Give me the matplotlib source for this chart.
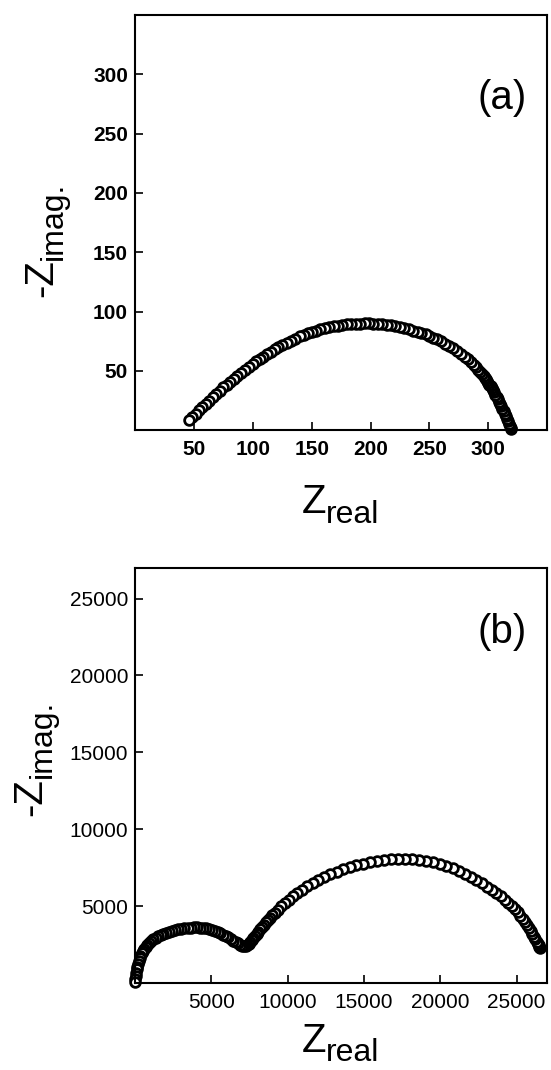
import matplotlib
matplotlib.use('Agg')
import matplotlib.pyplot as plt

plt.rcParams['font.family'] = ['Liberation Sans', 'DejaVu Sans']

# panel (a): Nyquist data (left to right)
za_real = [46.0, 48.8, 51.6, 54.4, 57.2, 60.0, 63.0, 66.0, 69.0, 72.0, 75.0,
           78.0, 81.0, 84.0, 87.0, 90.0, 93.3, 96.7, 100.0, 103.0, 106.0, 109.0,
           112.0, 115.2, 118.5, 121.8, 125.0, 128.8, 132.5, 136.2, 140.0, 143.3,
           146.7, 150.0, 153.8, 157.5, 161.2, 165.0, 168.8, 172.5, 176.2, 180.0,
           183.8, 187.5, 191.2, 195.0, 198.8, 202.5, 206.2, 210.0, 213.8, 217.5,
           221.2, 225.0, 228.8, 232.5, 236.2, 240.0, 243.3, 246.7, 250.0, 253.3,
           256.7, 260.0, 263.3, 266.7, 270.0, 273.3, 276.7, 280.0, 282.5, 285.0,
           287.5, 290.0, 291.7, 293.3, 295.0,
           296.0, 297.0, 298.0, 299.0, 300.0, 301.0, 302.0, 303.0, 304.0, 305.0,
           306.0, 307.0, 308.0, 309.0, 310.0, 311.0, 312.0, 313.0, 314.0, 315.0,
           316.0, 317.0, 318.0, 318.6, 319.0, 319.5]
za_imag = [8.5, 11.2, 13.9, 16.6, 19.3, 22.0, 24.8, 27.6, 30.4, 33.2, 36.0,
           38.4, 40.8, 43.2, 45.6, 48.0, 50.7, 53.3, 56.0, 58.0, 60.0, 62.0,
           64.0, 66.0, 68.0, 70.0, 72.0, 73.8, 75.5, 77.2, 79.0, 80.3,
           81.7, 83.0, 84.0, 85.0, 86.0, 87.0, 87.6, 88.2, 88.9, 89.5,
           89.6, 89.8, 89.9, 90.0, 90.0, 89.9, 89.7, 89.5, 89.0, 88.4,
           87.7, 87.0, 86.0, 85.0, 84.0, 83.0, 81.8, 80.7, 79.5, 78.0,
           76.5, 75.0, 73.0, 71.0, 69.0, 66.7, 64.3, 62.0, 59.8, 57.5,
           55.2, 53.0, 51.0, 49.0, 47.0,
           45.6, 44.3, 43.0, 41.5, 40.0, 38.4, 36.8, 35.2, 33.6, 32.0,
           30.0, 28.0, 26.0, 24.0, 22.0, 20.0, 18.0, 16.0, 14.0, 12.0,
           9.8, 7.6, 5.0, 3.4, 2.2, 1.0]

# panel (b)
zb_real = [0, 20, 45, 75, 110, 150, 195, 245, 300, 360, 430, 510, 600, 700,
           810, 930, 1060, 1200, 1350, 1510, 1680, 1860, 2050, 2240, 2440, 2640,
           2840, 3040, 3240, 3440, 3640, 3840, 4040, 4240, 4440, 4640, 4840,
           5040, 5230, 5420, 5600, 5780, 5950, 6120, 6280, 6440, 6590, 6740,
           6880, 7010, 7130, 7250, 7360, 7460, 7560, 7660, 7760, 7860, 7960,
           8070, 8180, 8300, 8420, 8550, 8690, 8840, 9000, 9180, 9370, 9580,
           9810, 10060, 10330, 10620, 10940, 11280, 11640, 12010, 12400, 12800,
           13210, 13630, 14060, 14500, 14950, 15400, 15860, 16320, 16780, 17240,
           17700, 18160, 18620, 19070, 19520, 19960, 20390, 20810, 21220, 21620,
           22000, 22370, 22720, 23060, 23380, 23680, 23960, 24220, 24460, 24680,
           24880, 25060, 25230, 25390, 25540, 25680, 25810, 25930, 26040, 26140,
           26230, 26310, 26380, 26440, 26490, 26530]
zb_imag = [80, 280, 480, 680, 880, 1070, 1260, 1440, 1610, 1770, 1930, 2080,
           2230, 2370, 2500, 2620, 2730, 2840, 2940, 3030, 3110, 3190, 3260,
           3330, 3390, 3440, 3490, 3530, 3560, 3590, 3610, 3620, 3620, 3610,
           3590, 3560, 3520, 3470, 3400, 3320, 3240, 3150, 3060, 2960, 2860,
           2760, 2660, 2570, 2490, 2430, 2400, 2400, 2460, 2550, 2650, 2770,
           2900, 3040, 3190, 3340, 3490, 3640, 3790, 3950, 4090, 4240, 4400,
           4580, 4770, 4980, 5200, 5420, 5640, 5860, 6080, 6300, 6510, 6710,
           6900, 7080, 7250, 7400, 7540, 7660, 7770, 7860, 7940, 8000, 8040,
           8060, 8060, 8040, 8000, 7930, 7840, 7730, 7600, 7450, 7280, 7100,
           6900, 6690, 6480, 6260, 6050, 5850, 5640, 5430, 5220, 5010, 4800,
           4590, 4380, 4170, 3960, 3760, 3560, 3370, 3180, 3000, 2830, 2680,
           2550, 2440, 2350, 2290]

ticks_a = [50, 100, 150, 200, 250, 300]
ticks_b = [5000, 10000, 15000, 20000, 25000]

fig = plt.figure(figsize=(5.51, 10.70), dpi=100)
ax1 = fig.add_axes([0.245, 0.598, 0.748, 0.388])
ax2 = fig.add_axes([0.245, 0.0813, 0.748, 0.388])

big, small = 29, 23  # axis label letter and its subscript


def axis_labels(ax, xl_y, yl_x, yl_y):
    # Z_real : main letter and a fairly large subscript
    ax.annotate('Z', xy=(0.5, xl_y), xycoords='axes fraction',
                xytext=(-10.6, 0), textcoords='offset points',
                ha='right', va='baseline', fontsize=big)
    ax.annotate('real', xy=(0.5, xl_y), xycoords='axes fraction',
                xytext=(-10.6, -7), textcoords='offset points',
                ha='left', va='baseline', fontsize=small)
    # -Z_imag. rotated
    ax.annotate('-Z', xy=(yl_x, yl_y), xycoords='axes fraction',
                xytext=(0, -15), textcoords='offset points',
                ha='right', va='baseline', fontsize=big,
                rotation=90, rotation_mode='anchor')
    ax.annotate('imag.', xy=(yl_x, yl_y), xycoords='axes fraction',
                xytext=(7, -15), textcoords='offset points',
                ha='left', va='baseline', fontsize=small,
                rotation=90, rotation_mode='anchor')


panels = [(ax1, za_real, za_imag, 350, ticks_a, '(a)', 0.80, 'bold',
           -0.2, -0.2, 0.461),
          (ax2, zb_real, zb_imag, 27000, ticks_b, '(b)', 0.845, 'normal',
           -0.165, -0.228, 0.543)]

for ax, xr, yi, lim, ticks, tag, ty, wt, xl_y, yl_x, yl_y in panels:
    # drawn from the right end so the left-most point sits on top
    ax.plot(xr[::-1], yi[::-1], 'o', ms=7, mfc='white', mec='black', mew=2.0,
            ls='none', clip_on=False)
    ax.set_xlim(0, lim)
    ax.set_ylim(0, lim)
    ax.set_xticks(ticks)
    ax.set_yticks(ticks)
    ax.tick_params(direction='in', length=5.5, width=1.2, labelsize=15)
    ax.tick_params(axis='x', pad=7)
    ax.tick_params(axis='y', pad=5)
    for lab in ax.get_xticklabels() + ax.get_yticklabels():
        lab.set_fontweight(wt)
    for s in ax.spines.values():
        s.set_linewidth(1.5)
    axis_labels(ax, xl_y, yl_x, yl_y)
    ax.text(0.89, ty, tag, transform=ax.transAxes, fontsize=29,
            ha='center', va='center')

fig.savefig('out.png', dpi=100)
